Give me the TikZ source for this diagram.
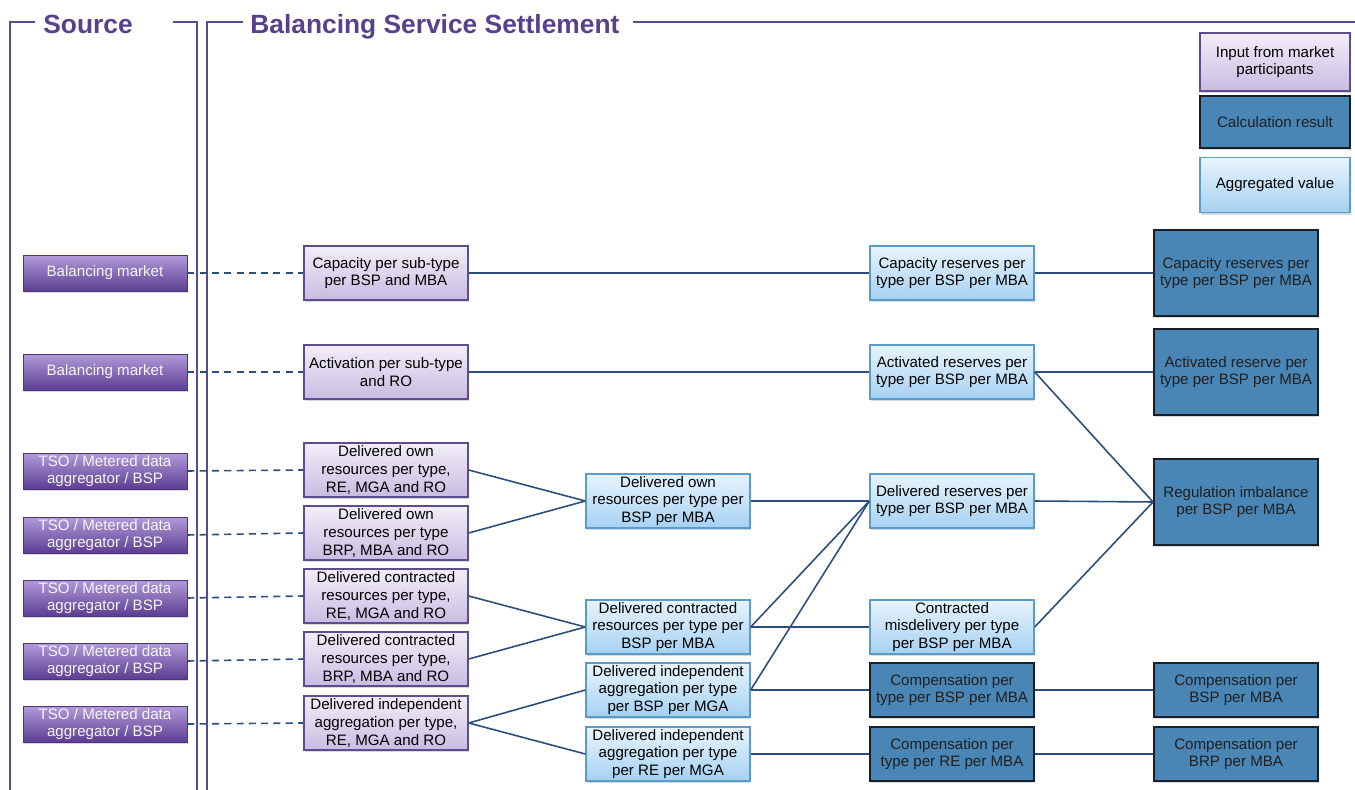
\documentclass[tikz,border=0pt]{standalone}
\usepackage{fontspec}
\setmainfont{Liberation Sans}
\usetikzlibrary{shadows}
\definecolor{framepurple}{HTML}{5B4A8C}
\definecolor{titlepurple}{HTML}{57408C}
\definecolor{srctop}{HTML}{B29BDA}
\definecolor{srcbot}{HTML}{5C3D92}
\definecolor{inptop}{HTML}{F2EEF9}
\definecolor{inpbot}{HTML}{C8BCE1}
\definecolor{inpdraw}{HTML}{5F4C8E}
\definecolor{aggtop}{HTML}{E8F4FD}
\definecolor{aggbot}{HTML}{A6D1F2}
\definecolor{aggdraw}{HTML}{5A9BC9}
\definecolor{calcfill}{HTML}{4A86B5}
\definecolor{calcdraw}{HTML}{17202A}
\definecolor{linkblue}{HTML}{2C4C7C}
\tikzset{
  box/.style={rectangle, minimum width=3.28cm, minimum height=1.08cm, inner sep=1pt,
    align=center, font=\fontsize{8.6}{10}\selectfont,
    drop shadow={opacity=0.3, shadow xshift=0.8pt, shadow yshift=-1.2pt}},
  source/.style={box, minimum height=0.72cm, top color=srctop, bottom color=srcbot,
    draw=srcbot!85!black, text=white!92!gray},
  input/.style={box, top color=inptop, bottom color=inpbot, draw=inpdraw, line width=0.8pt},
  aggr/.style={box, top color=aggtop, bottom color=aggbot, draw=aggdraw, line width=0.8pt},
  calc/.style={box, fill=calcfill, draw=calcdraw, line width=1.1pt, text=black!88},
  heading/.style={font=\fontsize{15}{18}\selectfont\bfseries, text=titlepurple, inner sep=0pt},
  frame/.style={framepurple, line width=1.1pt},
  link/.style={linkblue, line width=0.9pt},
  feed/.style={link, dash pattern=on 4pt off 3pt}
}
\begin{document}
\begin{tikzpicture}[x=0.02cm,y=-0.02cm]
\useasboundingbox (0,0) rectangle (1355,790);
% frames
\draw[frame] (35,22)--(10,22)--(10,790);
\draw[frame] (173,22)--(197,22)--(197,790);
\draw[frame] (243,22)--(207,22)--(207,790);
\draw[frame] (633,22)--(1355,22);
\node[heading,anchor=base west] (srchead) at (43,34) {Source};
\node[heading,anchor=base west] (bsshead) at (250,34) {Balancing Service Settlement};
% legend
\node[input,minimum width=3cm,minimum height=1.16cm] (leginput) at (1275,62) {Input from market\\participants};
\node[calc,minimum width=3cm,minimum height=1.04cm] (legcalc) at (1275,122) {Calculation result};
\node[aggr,minimum width=3cm,minimum height=1.1cm] (legaggr) at (1275,185) {Aggregated value};
% sources
\node[source] (src1) at (105,273) {Balancing market};
\node[source] (src2) at (105,372) {Balancing market};
\node[source] (src3) at (105,471) {TSO / Metered data\\aggregator / BSP};
\node[source] (src4) at (105,535) {TSO / Metered data\\aggregator / BSP};
\node[source] (src5) at (105,598) {TSO / Metered data\\aggregator / BSP};
\node[source] (src6) at (105,661) {TSO / Metered data\\aggregator / BSP};
\node[source] (src7) at (105,724) {TSO / Metered data\\aggregator / BSP};
% inputs
\node[input] (capin) at (386,273) {Capacity per sub-type\\per BSP and MBA};
\node[input] (actin) at (386,372) {Activation per sub-type\\and RO};
\node[input] (ownre) at (386,470) {Delivered own\\resources per type,\\RE, MGA and RO};
\node[input] (ownbrp) at (386,533) {Delivered own\\resources per type\\BRP, MBA and RO};
\node[input] (conre) at (386,596) {Delivered contracted\\resources per type,\\RE, MGA and RO};
\node[input] (conbrp) at (386,659) {Delivered contracted\\resources per type,\\BRP, MBA and RO};
\node[input] (indin) at (386,723) {Delivered independent\\aggregation per type,\\RE, MGA and RO};
% aggregated values
\node[aggr] (ownagg) at (668,501) {Delivered own\\resources per type per\\BSP per MBA};
\node[aggr] (conagg) at (668,627) {Delivered contracted\\resources per type per\\BSP per MBA};
\node[aggr] (indbsp) at (668,690) {Delivered independent\\aggregation per type\\per BSP per MGA};
\node[aggr] (indre) at (668,754) {Delivered independent\\aggregation per type\\per RE per MGA};
\node[aggr] (capres) at (952,273) {Capacity reserves per\\type per BSP per MBA};
\node[aggr] (actres) at (952,372) {Activated reserves per\\type per BSP per MBA};
\node[aggr] (delres) at (952,501) {Delivered reserves per\\type per BSP per MBA};
\node[aggr] (misdel) at (952,627) {Contracted\\misdelivery per type\\per BSP per MBA};
% calculation results
\node[calc] (compbsptype) at (952,690) {Compensation per\\type per BSP per MBA};
\node[calc] (compretype) at (952,754) {Compensation per\\type per RE per MBA};
\node[calc,minimum height=1.72cm] (capcalc) at (1236,273) {Capacity reserves per\\type per BSP per MBA};
\node[calc,minimum height=1.72cm] (actcalc) at (1236,372) {Activated reserve per\\type per BSP per MBA};
\node[calc,minimum height=1.72cm] (regimb) at (1236,502) {Regulation imbalance\\per BSP per MBA};
\node[calc] (compbsp) at (1236,690) {Compensation per\\BSP per MBA};
\node[calc] (compbrp) at (1236,754) {Compensation per\\BRP per MBA};
% source feeds
\foreach \s/\t in {src1/capin,src2/actin,src3/ownre,src4/ownbrp,src5/conre,src6/conbrp,src7/indin}
  \draw[feed] (\s.east) -- (\t.west);
% links
\draw[link] (capin.east) -- (capres.west);
\draw[link] (capres.east) -- (capcalc.west);
\draw[link] (actin.east) -- (actres.west);
\draw[link] (actres.east) -- (actcalc.west);
\draw[link] (actres.east) -- (regimb.west);
\draw[link] (ownre.east) -- (ownagg.west);
\draw[link] (ownbrp.east) -- (ownagg.west);
\draw[link] (conre.east) -- (conagg.west);
\draw[link] (conbrp.east) -- (conagg.west);
\draw[link] (indin.east) -- (indbsp.west);
\draw[link] (indin.east) -- (indre.west);
\draw[link] (ownagg.east) -- (delres.west);
\draw[link] (conagg.east) -- (delres.west);
\draw[link] (conagg.east) -- (misdel.west);
\draw[link] (indbsp.east) -- (delres.west);
\draw[link] (indbsp.east) -- (compbsptype.west);
\draw[link] (indre.east) -- (compretype.west);
\draw[link] (delres.east) -- (regimb.west);
\draw[link] (misdel.east) -- (regimb.west);
\draw[link] (compbsptype.east) -- (compbsp.west);
\draw[link] (compretype.east) -- (compbrp.west);
\end{tikzpicture}
\end{document}
